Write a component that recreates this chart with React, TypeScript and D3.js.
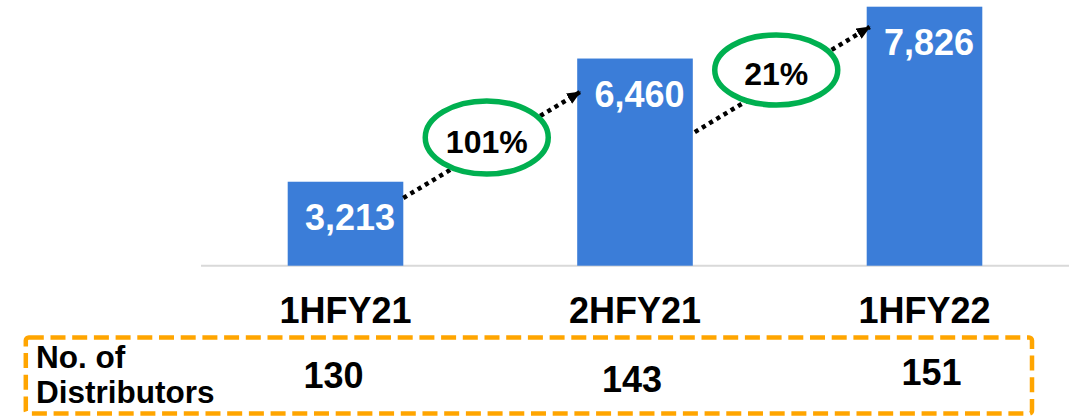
import React from "react";
import * as d3 from "d3";

const categories = ["1HFY21", "2HFY21", "1HFY22"];
const revenue = [3213, 6460, 7826];
const distributors = [130, 143, 151];
const growthLabels = ["101%", "21%"];
// arrow anchors in value units (start y, end y) and ellipse centre values
const arrowStartValues = [2784, 4522];
const arrowEndValues = [5579, 7291];
const ellipseValues = [4378, 6158];
const distributorBaselineShift = [0, 4, -3];
const distributorXShift = [-12, -3, 7];

const W = 1076;
const H = 416;
const FONT = "'Liberation Sans', Arial, Helvetica, sans-serif";
const BLUE = "#3B7DD8";
const GREEN = "#00B050";
const ORANGE = "#FFA500";

export default function App() {
  const x = d3.scalePoint<string>().domain(categories).range([345.5, 924.5]);
  const y = d3.scaleLinear().domain([1000, 8000]).range([265.7, 0.1]);
  const barW = 115.6;
  const base = y(1000);

  const barLeft = (i: number) => (x(categories[i]) as number) - barW / 2;
  const barRight = (i: number) => (x(categories[i]) as number) + barW / 2;

  return (
    <svg
      width={W}
      height={H}
      style={{ position: "absolute", left: 0, top: 0, display: "block" }}
      fontFamily={FONT}
    >
      <defs>
        <marker
          id="arrowhead"
          viewBox="0 0 14 12"
          refX={13}
          refY={6}
          markerWidth={14}
          markerHeight={12}
          markerUnits="userSpaceOnUse"
          orient="auto"
        >
          <path d="M0,0 L14,6 L0,12 Z" fill="#000" />
        </marker>
      </defs>
      <rect x={0} y={0} width={W} height={H} fill="#fff" />

      {/* axis line */}
      <line x1={201} x2={1069} y1={base} y2={base} stroke="#D9D9D9" strokeWidth={2} />

      {/* bars */}
      {revenue.map((v, i) => (
        <rect key={i} x={barLeft(i)} y={y(v)} width={barW} height={base - y(v)} fill={BLUE} />
      ))}
      {revenue.map((v, i) => (
        <text
          key={"v" + i}
          x={(x(categories[i]) as number) + 4.5}
          y={y(v) + 48}
          textAnchor="middle"
          fill="#fff"
          fontWeight="bold"
          fontSize={36}
        >
          {d3.format(",")(v)}
        </text>
      ))}

      {/* growth arrows */}
      {growthLabels.map((g, i) => {
        const x1 = barRight(i) + (i === 0 ? 0 : 2);
        const x2 = barLeft(i + 1) + 3;
        const cx = (barRight(i) + barLeft(i + 1)) / 2 - 3.5;
        const cy = y(ellipseValues[i]);
        return (
          <g key={"g" + i}>
            <line
              x1={x1}
              y1={y(arrowStartValues[i])}
              x2={x2}
              y2={y(arrowEndValues[i])}
              stroke="#000"
              strokeWidth={4.5}
              strokeDasharray="4.2 4.2"
              markerEnd="url(#arrowhead)"
            />
            <ellipse cx={cx} cy={cy} rx={61.5} ry={i === 0 ? 36.5 : 35} fill="#fff" stroke={GREEN} strokeWidth={5.5} />
            <text x={cx} y={cy + 15} textAnchor="middle" fontWeight="bold" fontSize={32} fill="#000">
              {g}
            </text>
          </g>
        );
      })}

      {/* category labels */}
      {categories.map((c, i) => (
        <text
          key={"c" + i}
          x={x(c) as number}
          y={323}
          textAnchor="middle"
          fontWeight="bold"
          fontSize={36}
          fill="#000"
        >
          {c}
        </text>
      ))}

      {/* distributors box */}
      <rect
        x={25.8}
        y={337.5}
        width={1032 - 25.8}
        height={413.5 - 337.5}
        rx={3}
        fill="none"
        stroke={ORANGE}
        strokeWidth={4.5}
        strokeDasharray="15 6.7"
      />
      <text x={36} y={367.7} fontWeight="bold" fontSize={31.5} fill="#000">
        No. of
      </text>
      <text x={36} y={403.3} fontWeight="bold" fontSize={31.5} fill="#000">
        Distributors
      </text>
      {distributors.map((d, i) => (
        <text
          key={"d" + i}
          x={(x(categories[i]) as number) + distributorXShift[i]}
          y={388 + distributorBaselineShift[i]}
          textAnchor="middle"
          fontWeight="bold"
          fontSize={36}
          fill="#000"
        >
          {d}
        </text>
      ))}
    </svg>
  );
}
